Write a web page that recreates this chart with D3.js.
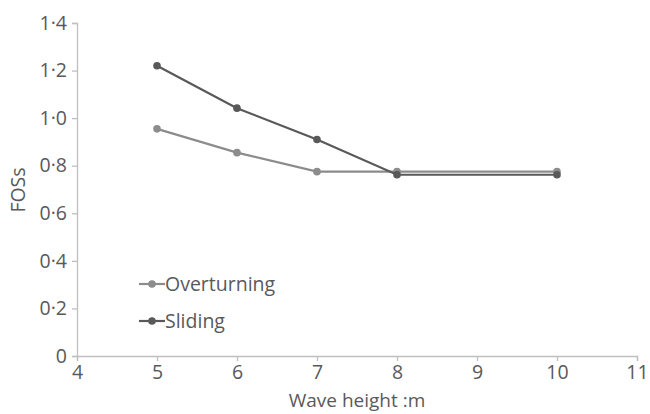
<!DOCTYPE html>
<html><head><meta charset="utf-8">
<script src="https://cdn.jsdelivr.net/npm/d3@7"></script>
<style>body{margin:0;background:#fff}text{font-family:"Open Sans",sans-serif}</style>
</head><body><svg id="c" width="650" height="414"></svg>
<script>
const waveHeights = [5, 6, 7, 8, 10];
const overturning = [0.955, 0.855, 0.775, 0.775, 0.775];
const sliding = [1.22, 1.042, 0.91, 0.762, 0.762];
const xTicks = [4, 5, 6, 7, 8, 9, 10, 11];
const yTicks = [0, 0.2, 0.4, 0.6, 0.8, 1.0, 1.2, 1.4];
const yTickLabels = ["0", "0·2", "0·4", "0·6", "0·8", "1·0", "1·2", "1·4"];
const seriesNames = ["Overturning", "Sliding"];
const colors = ["#8c8c8c", "#595959"];

const svg = d3.select("#c");
const x = d3.scaleLinear().domain([4, 11]).range([77, 637]);
const y = d3.scaleLinear().domain([0, 1.4]).range([356, 23]);
const axisCol = "#bfbfbf", textCol = "#595959";
const fs = 19.5;

const xa = svg.append("g").attr("transform", "translate(0,356)")
  .call(d3.axisBottom(x).tickValues(xTicks).tickSize(5).tickFormat(d3.format("d")));
const ya = svg.append("g").attr("transform", "translate(77,0)")
  .call(d3.axisLeft(y).tickValues(yTicks).tickSize(5).tickFormat((d, i) => yTickLabels[i]));
[xa, ya].forEach(a => {
  a.select(".domain").attr("stroke", axisCol).attr("stroke-width", 1.3);
  a.selectAll(".tick line").attr("stroke", axisCol).attr("stroke-width", 1.3);
  a.selectAll(".tick text").attr("fill", textCol).attr("font-size", fs);
});
xa.selectAll(".tick text").attr("dy", "0.75em");
ya.selectAll(".tick text").attr("dx", "-2");

const data = [overturning, sliding];
const line = d3.line().x((d, i) => x(waveHeights[i])).y(d => y(d));
data.forEach((s, k) => {
  svg.append("path").datum(s).attr("d", line).attr("fill", "none")
    .attr("stroke", colors[k]).attr("stroke-width", 2.2);
  svg.selectAll(null).data(s).enter().append("circle")
    .attr("cx", (d, i) => x(waveHeights[i])).attr("cy", d => y(d))
    .attr("r", 3.8).attr("fill", colors[k]);
});

// legend
const lg = svg.append("g");
seriesNames.forEach((n, k) => {
  const ly = 284 + k * 37;
  lg.append("line").attr("x1", 139).attr("x2", 165).attr("y1", ly).attr("y2", ly)
    .attr("stroke", colors[k]).attr("stroke-width", 2.2);
  lg.append("circle").attr("cx", 152).attr("cy", ly).attr("r", 3.8).attr("fill", colors[k]);
  lg.append("text").attr("x", 165).attr("y", ly).attr("dy", "0.35em")
    .attr("fill", textCol).attr("font-size", fs).text(n);
});

svg.append("text").attr("x", 357).attr("y", 407).attr("text-anchor", "middle")
  .attr("fill", textCol).attr("font-size", 19).text("Wave height :m");
svg.append("text").attr("transform", "translate(25,190) rotate(-90)").attr("text-anchor", "middle")
  .attr("fill", textCol).attr("font-size", fs).text("FOSs");
</script></body></html>
